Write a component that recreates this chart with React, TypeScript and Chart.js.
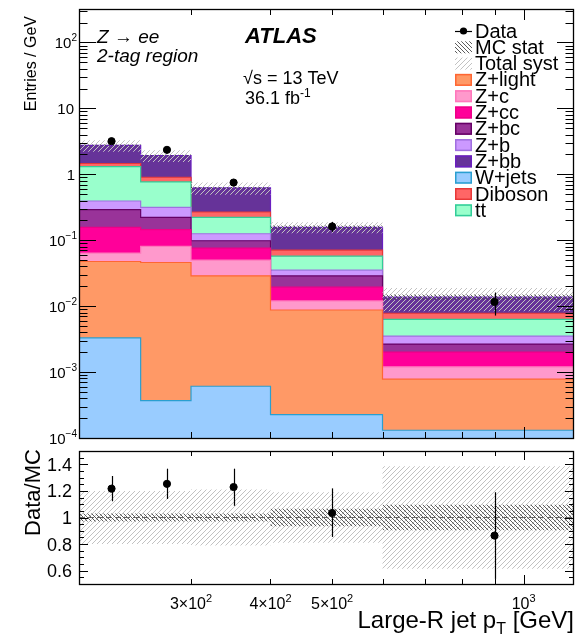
import React, { useEffect, useRef } from 'react';
import { Chart, registerables } from 'chart.js';

Chart.register(...registerables);

// ---- binning (GeV) ----
const binEdges = [200, 250, 300, 400, 600, 1200];
const binCenters = [225, 275, 350, 500, 900];

// ---- MC samples, entries / GeV per bin (stacked bottom -> top) ----
const wJets = [0.0033, 0.00037, 0.00061, 0.000226, 0.000131];
const zLight = [0.0443, 0.0456, 0.0282, 0.00852, 0.00065];
const zC = [0.0162, 0.0346, 0.0212, 0.00325, 0.00042];
const zCC = [0.093, 0.064, 0.026, 0.0074, 0.00081];
const zBC = [0.134, 0.0775, 0.0222, 0.0094, 0.00065];
const zB = [0.103, 0.094, 0.0273, 0.0064, 0.00086];
const ttbar = [0.916, 0.451, 0.0965, 0.0222, 0.0028];
const diboson = [0.15, 0.136, 0.046, 0.0136, 0.00148];
const zBB = [1.28, 1.027, 0.354, 0.086, 0.00587];

// ---- data ----
const dataValues = [3.18, 2.35, 0.75, 0.162, 0.0116];
const dataErrUp = [0.25, 0.21, 0.09, 0.028, 0.0045];
const dataErrDown = [0.25, 0.21, 0.09, 0.028, 0.0044];

// ---- ratio panel ----
const ratioValues = [1.217, 1.253, 1.229, 1.034, 0.864];
const ratioErrUp = [0.095, 0.114, 0.138, 0.185, 0.326];
const ratioErrDown = [0.095, 0.114, 0.141, 0.18, 0.326];

// relative uncertainties on the MC total
const mcStatRel = [0.03, 0.03, 0.03, 0.065, 0.095];
const totalSystRel = [0.2, 0.2, 0.21, 0.19, 0.385];

// ---- axis ticks ----
const yDecades = [-4, -3, -2, -1, 0, 1, 2];
const xMinorTicks = [300, 400, 500, 600, 700, 800, 900];
const xMajorTicks = [1000];
const xTickValues = [300, 400, 500, 1000];
const xTickLabels: [string, string][] = [['3×10', '2'], ['4×10', '2'], ['5×10', '2'], ['10', '3']];
const ratioTickValues = [0.6, 0.8, 1.0, 1.2, 1.4];
const ratioTickLabels = ['0.6', '0.8', '1', '1.2', '1.4'];

// ---- sample styling (same order as the stack) ----
const sampleNames = ['W+jets', 'Z+light', 'Z+c', 'Z+cc', 'Z+bc', 'Z+b', 'tt', 'Diboson', 'Z+bb'];
const sampleFill = ['#99ccff', '#ff9966', '#ff99cc', '#ff0099', '#993399', '#cc99ff', '#99ffcc', '#ff6666', '#663399'];
const sampleLine = ['#2a9fd0', '#ff6633', '#ff77bb', '#ee0088', '#660066', '#a070e0', '#33cc99', '#e83838', '#6a1fc0'];
const legendSamples = ['Z+light', 'Z+c', 'Z+cc', 'Z+bc', 'Z+b', 'Z+bb', 'W+jets', 'Diboson', 'tt'];

const FONT = '"Liberation Sans", Arial, Helvetica, sans-serif';
const W = 579;
const TOP_H = 446;
const BOT_H = 197;

const stackSamples = [wJets, zLight, zC, zCC, zBC, zB, ttbar, diboson, zBB];
const cumulative = stackSamples.map((_, k) =>
  binCenters.map((__, b) => stackSamples.slice(0, k + 1).reduce((s, arr) => s + arr[b], 0))
);
const mcTotal = cumulative[cumulative.length - 1];

function stepPoints(vals: number[]) {
  return binEdges.map((e, i) => ({ x: e, y: vals[Math.min(i, vals.length - 1)] }));
}

function makeHatch(color: string, size: number, forward: boolean, lw: number): CanvasPattern {
  const c = document.createElement('canvas');
  c.width = size;
  c.height = size;
  const g = c.getContext('2d')!;
  g.strokeStyle = color;
  g.lineWidth = lw;
  g.beginPath();
  if (forward) {
    g.moveTo(-1, size + 1);
    g.lineTo(size + 1, -1);
    g.moveTo(-1, 1);
    g.lineTo(1, -1);
    g.moveTo(size - 1, size + 1);
    g.lineTo(size + 1, size - 1);
  } else {
    g.moveTo(-1, -1);
    g.lineTo(size + 1, size + 1);
    g.moveTo(size - 1, -1);
    g.lineTo(size + 1, 1);
    g.moveTo(-1, size - 1);
    g.lineTo(1, size + 1);
  }
  g.stroke();
  return g.createPattern(c, 'repeat')!;
}

function hLine(ctx: CanvasRenderingContext2D, x1: number, x2: number, y: number) {
  const yy = Math.round(y) + 0.5;
  ctx.beginPath();
  ctx.moveTo(x1, yy);
  ctx.lineTo(x2, yy);
  ctx.stroke();
}
function vLine(ctx: CanvasRenderingContext2D, x: number, y1: number, y2: number) {
  const xx = Math.round(x) + 0.5;
  ctx.beginPath();
  ctx.moveTo(xx, y1);
  ctx.lineTo(xx, y2);
  ctx.stroke();
}

function drawSup(
  ctx: CanvasRenderingContext2D, base: string, sup: string, x: number, y: number,
  align: 'left' | 'right' | 'center', baseSize: number, supSize: number, rise: number, style = ''
) {
  const bf = `${style} ${baseSize}px ${FONT}`;
  const sf = `${style} ${supSize}px ${FONT}`;
  ctx.font = bf;
  const wb = ctx.measureText(base).width;
  ctx.font = sf;
  const ws = sup ? ctx.measureText(sup).width : 0;
  const total = wb + ws;
  const x0 = align === 'right' ? x - total : align === 'center' ? x - total / 2 : x;
  ctx.textAlign = 'left';
  ctx.textBaseline = 'alphabetic';
  ctx.font = bf;
  ctx.fillText(base, x0, y);
  if (sup) {
    ctx.font = sf;
    ctx.fillText(sup, x0 + wb, y - rise);
  }
}

function drawXTicks(chart: any, minorLen: number, majorLen: number) {
  const { ctx, chartArea: a } = chart;
  const x = chart.scales.x;
  const all = [...xMinorTicks.map((v) => [v, minorLen]), ...xMajorTicks.map((v) => [v, majorLen])];
  all.forEach(([v, len]) => {
    const px = x.getPixelForValue(v);
    vLine(ctx, px, a.bottom, a.bottom - len);
    vLine(ctx, px, a.top, a.top + len);
  });
}

function drawErrorBars(chart: any, up: number[], down: number[], vals: number[]) {
  const { ctx } = chart;
  const x = chart.scales.x;
  const y = chart.scales.y;
  ctx.save();
  ctx.strokeStyle = '#000';
  ctx.lineWidth = 1.2;
  binCenters.forEach((c, i) => {
    const px = Math.round(x.getPixelForValue(c)) + 0.5;
    ctx.beginPath();
    ctx.moveTo(px, y.getPixelForValue(vals[i] + up[i]));
    ctx.lineTo(px, y.getPixelForValue(vals[i] - down[i]));
    ctx.stroke();
  });
  ctx.restore();
}

function bandDatasets(lo: number[], hi: number[], pattern: CanvasPattern, loIndex: number, order: number) {
  return [
    {
      data: stepPoints(lo), stepped: 'before', borderColor: 'rgba(0,0,0,0)', borderWidth: 0,
      pointRadius: 0, fill: false, order,
    },
    {
      data: stepPoints(hi), stepped: 'before', borderColor: 'rgba(0,0,0,0)', borderWidth: 0,
      pointRadius: 0, backgroundColor: pattern, fill: { target: loIndex, above: pattern, below: pattern }, order,
    },
  ];
}

export default function App() {
  const topRef = useRef<HTMLCanvasElement>(null);
  const botRef = useRef<HTMLCanvasElement>(null);

  useEffect(() => {
    const statPattern = makeHatch('#4a4a4a', 4, false, 0.9);
    const systPattern = makeHatch('#c2c2c2', 5, true, 1);
    const yMax = Math.pow(10, 2.508);

    // ---------------- main panel ----------------
    const topDatasets: any[] = [
      {
        label: 'Data', data: binCenters.map((x, i) => ({ x, y: dataValues[i] })), showLine: false,
        pointRadius: 3.6, pointBackgroundColor: '#000', pointBorderColor: '#000', borderColor: '#000',
        fill: false, order: 0,
      },
      ...bandDatasets(mcTotal.map((v, i) => v * (1 - mcStatRel[i])), mcTotal.map((v, i) => v * (1 + mcStatRel[i])), statPattern, 1, 1),
      ...bandDatasets(mcTotal.map((v, i) => v * (1 - totalSystRel[i])), mcTotal.map((v, i) => v * (1 + totalSystRel[i])), systPattern, 3, 2),
      ...stackSamples.map((_, k) => ({
        label: sampleNames[k], data: stepPoints(cumulative[k]), stepped: 'before',
        borderColor: sampleLine[k], borderWidth: 1.2, backgroundColor: sampleFill[k],
        fill: 'start', pointRadius: 0, order: 3 + k,
      })),
    ];

    const topDecor = {
      id: 'topDecor',
      afterDatasetsDraw(chart: any) {
        drawErrorBars(chart, dataErrUp, dataErrDown, dataValues);
      },
      afterDraw(chart: any) {
        const { ctx, chartArea: a } = chart;
        const y = chart.scales.y;
        ctx.save();
        ctx.fillStyle = '#000';
        ctx.strokeStyle = '#000';
        ctx.lineWidth = 1;
        // y ticks (both sides)
        yDecades.forEach((d) => {
          for (let m = 1; m <= 9; m++) {
            const v = m * Math.pow(10, d);
            if (v > yMax) break;
            const py = y.getPixelForValue(v);
            const len = m === 1 ? 17 : 8.5;
            hLine(ctx, a.left, a.left + len, py);
            hLine(ctx, a.right, a.right - len, py);
          }
        });
        drawXTicks(chart, 6, 11);
        // frame
        ctx.lineWidth = 1.3;
        ctx.strokeRect(Math.round(a.left) + 0.5, Math.round(a.top) + 0.5, Math.round(a.right - a.left) - 1, Math.round(a.bottom - a.top));

        // y tick labels
        yDecades.forEach((d) => {
          const py = y.getPixelForValue(Math.pow(10, d));
          if (d === 0) drawSup(ctx, '1', '', 75, py + 5.5, 'right', 15, 10, 6);
          else if (d === 1) drawSup(ctx, '10', '', 74, py + 5.5, 'right', 15, 10, 6);
          else drawSup(ctx, '10', d < 0 ? '−' + String(-d) : String(d), 77, py + 5.5, 'right', 15, 10, 6.5);
        });

        // y title
        ctx.save();
        ctx.translate(36, 16);
        ctx.rotate(-Math.PI / 2);
        ctx.font = `16px ${FONT}`;
        ctx.textAlign = 'right';
        ctx.textBaseline = 'alphabetic';
        ctx.fillText('Entries / GeV', 0, 0);
        ctx.restore();

        // labels
        ctx.font = `italic 19px ${FONT}`;
        ctx.textAlign = 'left';
        ctx.textBaseline = 'alphabetic';
        ctx.fillText('Z → ee', 97, 43);
        ctx.fillText('2-tag region', 97, 62);
        ctx.font = `italic bold 22px ${FONT}`;
        ctx.fillText('ATLAS', 245, 43);
        ctx.font = `18px ${FONT}`;
        ctx.fillText('√s = 13 TeV', 243, 84);
        drawSup(ctx, '36.1 fb', '-1', 245, 104, 'left', 18, 12, 7.5);

        // legend
        const lx = 455, bw = 17, bh = 12, tx = 475, row0 = 31, step = 16.3;
        ctx.font = `20px ${FONT}`;
        ctx.textBaseline = 'middle';
        ctx.fillStyle = '#000';
        // data entry
        ctx.lineWidth = 1.2;
        hLine(ctx, lx, lx + bw, row0 - 0.5);
        ctx.beginPath();
        ctx.arc(lx + bw / 2, row0, 3.6, 0, Math.PI * 2);
        ctx.fill();
        ctx.fillText('Data', tx, row0 + 1);
        // uncertainty entries
        ctx.fillStyle = statPattern;
        ctx.fillRect(lx, row0 + step - bh / 2, bw, bh);
        ctx.fillStyle = systPattern;
        ctx.fillRect(lx, row0 + 2 * step - bh / 2, bw, bh);
        ctx.fillStyle = '#000';
        ctx.fillText('MC stat', tx, row0 + step + 1);
        ctx.fillText('Total syst', tx, row0 + 2 * step + 1);
        legendSamples.forEach((name, i) => {
          const k = sampleNames.indexOf(name);
          const cy = row0 + (i + 3) * step;
          ctx.fillStyle = sampleFill[k];
          ctx.fillRect(lx, cy - bh / 2, bw, bh);
          ctx.strokeStyle = sampleLine[k];
          ctx.lineWidth = 1.5;
          ctx.strokeRect(lx + 0.75, cy - bh / 2 + 0.75, bw - 1.5, bh - 1.5);
          ctx.fillStyle = '#000';
          ctx.fillText(name, tx, cy + 1);
        });
        ctx.restore();
      },
    };

    const top = new Chart(topRef.current!, {
      type: 'line',
      data: { datasets: topDatasets },
      options: {
        responsive: false,
        animation: false,
        events: [],
        devicePixelRatio: 1,
        layout: { padding: { left: 79, right: 2, top: 9, bottom: 8 } },
        plugins: { legend: { display: false }, tooltip: { enabled: false } },
        scales: {
          x: { type: 'logarithmic', min: 200, max: 1200, display: false },
          y: { type: 'logarithmic', min: 1e-4, max: yMax, display: false },
        },
      },
      plugins: [topDecor],
    } as any);

    // ---------------- ratio panel ----------------
    const ratioDatasets: any[] = [
      {
        label: 'Data/MC', data: binCenters.map((x, i) => ({ x, y: ratioValues[i] })), showLine: false,
        pointRadius: 3.6, pointBackgroundColor: '#000', pointBorderColor: '#000', borderColor: '#000',
        fill: false, order: 0,
      },
      ...bandDatasets(mcStatRel.map((s) => 1 - s), mcStatRel.map((s) => 1 + s), statPattern, 1, 2),
      ...bandDatasets(totalSystRel.map((s) => 1 - s), totalSystRel.map((s) => 1 + s), systPattern, 3, 3),
      {
        data: [{ x: 200, y: 1 }, { x: 1200, y: 1 }], borderColor: '#666', borderWidth: 1,
        borderDash: [6, 3], pointRadius: 0, fill: false, order: 1,
      },
    ];

    const botDecor = {
      id: 'botDecor',
      afterDatasetsDraw(chart: any) {
        drawErrorBars(chart, ratioErrUp, ratioErrDown, ratioValues);
      },
      afterDraw(chart: any) {
        const { ctx, chartArea: a } = chart;
        const x = chart.scales.x;
        const y = chart.scales.y;
        ctx.save();
        ctx.strokeStyle = '#000';
        ctx.fillStyle = '#000';
        ctx.lineWidth = 1;
        for (let i = 11; i <= 29; i++) {
          const v = i * 0.05;
          const py = y.getPixelForValue(v);
          const len = i % 4 === 0 ? 9 : 5;
          hLine(ctx, a.left, a.left + len, py);
          hLine(ctx, a.right, a.right - len, py);
        }
        drawXTicks(chart, 5, 9);
        ctx.lineWidth = 1.3;
        ctx.strokeRect(Math.round(a.left) + 0.5, Math.round(a.top) + 0.5, Math.round(a.right - a.left) - 1, Math.round(a.bottom - a.top));

        // ratio tick labels
        ctx.font = `18px ${FONT}`;
        ctx.textAlign = 'right';
        ctx.textBaseline = 'alphabetic';
        ratioTickValues.forEach((v, i) => {
          ctx.fillText(ratioTickLabels[i], 72, y.getPixelForValue(v) + 6.5);
        });

        // x tick labels
        xTickValues.forEach((v, i) => {
          drawSup(ctx, xTickLabels[i][0], xTickLabels[i][1], x.getPixelForValue(v), 163, 'center', 16, 11, 7);
        });

        // x title
        const base = 'Large-R jet p';
        const sub = 'T';
        const rest = ' [GeV]';
        ctx.font = `24px ${FONT}`;
        const w1 = ctx.measureText(base).width;
        const w3 = ctx.measureText(rest).width;
        ctx.font = `16px ${FONT}`;
        const w2 = ctx.measureText(sub).width;
        const x0 = a.right - (w1 + w2 + w3);
        ctx.textAlign = 'left';
        ctx.font = `24px ${FONT}`;
        ctx.fillText(base, x0, 182);
        ctx.fillText(rest, x0 + w1 + w2, 182);
        ctx.font = `16px ${FONT}`;
        ctx.fillText(sub, x0 + w1, 188);

        // y title
        ctx.save();
        ctx.translate(39.5, 46.5);
        ctx.rotate(-Math.PI / 2);
        ctx.font = `22px ${FONT}`;
        ctx.textAlign = 'center';
        ctx.fillText('Data/MC', 0, 0);
        ctx.restore();
        ctx.restore();
      },
    };

    const bot = new Chart(botRef.current!, {
      type: 'line',
      data: { datasets: ratioDatasets },
      options: {
        responsive: false,
        animation: false,
        events: [],
        devicePixelRatio: 1,
        layout: { padding: { left: 79, right: 2, top: 1, bottom: 59 } },
        plugins: { legend: { display: false }, tooltip: { enabled: false } },
        scales: {
          x: { type: 'logarithmic', min: 200, max: 1200, display: false },
          y: { type: 'linear', min: 0.5, max: 1.5, display: false },
        },
      },
      plugins: [botDecor],
    } as any);

    return () => {
      top.destroy();
      bot.destroy();
    };
  }, []);

  return (
    <div style={{ position: 'absolute', left: 0, top: 0, width: W, height: TOP_H + BOT_H, background: '#fff' }}>
      <canvas ref={topRef} width={W} height={TOP_H} style={{ position: 'absolute', left: 0, top: 0, width: W, height: TOP_H }} />
      <canvas ref={botRef} width={W} height={BOT_H} style={{ position: 'absolute', left: 0, top: TOP_H, width: W, height: BOT_H }} />
    </div>
  );
}
